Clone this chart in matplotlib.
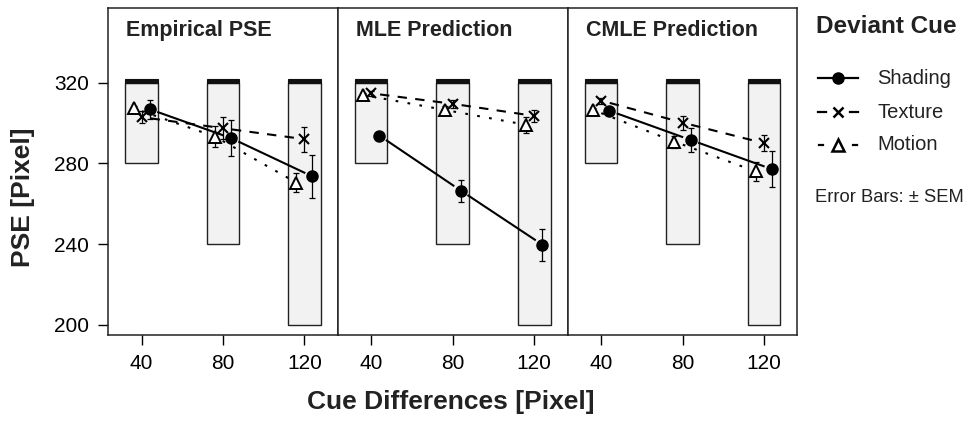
import numpy as np
import matplotlib
matplotlib.use("Agg")
from matplotlib import pyplot as plt
from matplotlib.lines import Line2D
from matplotlib.patches import Rectangle

plt.rcParams['font.family'] = ['Liberation Sans', 'DejaVu Sans']

# ---- data ----
cue_diffs = [40, 80, 120]
panels = ['Empirical PSE', 'MLE Prediction', 'CMLE Prediction']
standard = 320

shading = {'Empirical PSE': [306.8, 292.5, 273.5],
           'MLE Prediction': [293.8, 266.5, 239.7],
           'CMLE Prediction': [306.1, 291.6, 277.1]}
shading_sem = {'Empirical PSE': [4.6, 8.9, 10.5],
               'MLE Prediction': [1.5, 5.5, 8.0],
               'CMLE Prediction': [2.0, 6.0, 8.8]}
texture = {'Empirical PSE': [302.9, 297.4, 292.0],
           'MLE Prediction': [314.7, 309.5, 303.5],
           'CMLE Prediction': [311.1, 300.2, 290.0]}
texture_sem = {'Empirical PSE': [2.9, 5.5, 6.2],
               'MLE Prediction': [1.2, 2.0, 3.0],
               'CMLE Prediction': [1.5, 3.5, 4.1]}
motion = {'Empirical PSE': [307.3, 293.3, 270.5],
          'MLE Prediction': [313.9, 306.5, 299.1],
          'CMLE Prediction': [306.5, 290.8, 276.0]}
motion_sem = {'Empirical PSE': [1.0, 5.0, 4.5],
              'MLE Prediction': [1.0, 2.0, 4.0],
              'CMLE Prediction': [1.0, 3.0, 4.5]}

W, H = 973, 421
fig = plt.figure(figsize=(W / 100, H / 100), dpi=100)


def fx(px):
    return px / W


def fy(py):
    return 1 - py / H


def gapped_line(ax, xs, ys, gap, **kw):
    # draw segments between points, leaving a gap around each point (like R type="b")
    pts = ax.transData.transform(np.column_stack([xs, ys]))
    inv = ax.transData.inverted()
    for p0, p1 in zip(pts[:-1], pts[1:]):
        d = p1 - p0
        n = np.hypot(*d)
        if n <= 2 * gap:
            continue
        u = d / n
        a = inv.transform(p0 + u * gap)
        b = inv.transform(p1 - u * gap)
        ax.plot([a[0], b[0]], [a[1], b[1]], color='black', **kw)


series = [
    ('Shading', shading, shading_sem, 4, dict(marker='o', ms=8, mfc='black', mec='black'),
     dict(lw=1.5, ls='-')),
    ('Texture', texture, texture_sem, 0, dict(marker='x', ms=7.5, mec='black', mew=1.5),
     dict(lw=1.5, ls=(0, (4.5, 4)))),
    ('Motion', motion, motion_sem, -4, dict(marker='^', ms=8.5, mfc='white', mec='black', mew=1.4),
     dict(lw=1.5, ls=(0, (1.3, 4.5)))),
]

lefts = [108.3, 337.7, 567.7]
widths = [229.4, 230.0, 229.6]
top_px, bottom_px = 8.3, 335

for i, name in enumerate(panels):
    ax = fig.add_axes([fx(lefts[i]), fy(bottom_px), widths[i] / W, (bottom_px - top_px) / H])
    ax.set_xlim(23.6, 136.4)
    ax.set_ylim(195.0, 356.8)

    # bars: range from standard down by the cue difference
    for c in cue_diffs:
        ax.add_patch(Rectangle((c - 8, standard - c), 16, c, facecolor='#f2f2f2',
                               edgecolor='#222222', lw=1.0, zorder=1))
        ax.add_patch(Rectangle((c - 8, standard), 16, 2, facecolor='#111111',
                               edgecolor='#111111', lw=0.8, zorder=1))

    for label, vals, sems, off, mk, ln in series:
        xs = np.array(cue_diffs) + off
        ys = np.array(vals[name])
        gapped_line(ax, xs, ys, 9, zorder=2, **ln)
        ax.errorbar(xs, ys, yerr=sems[name], fmt='none', ecolor='black',
                    elinewidth=0.9, capsize=2, capthick=0.9, zorder=3)
        ax.plot(xs, ys, ls='none', zorder=4, **mk)

    ax.text(18 / widths[i], (bottom_px - 36) / (bottom_px - top_px), name,
            transform=ax.transAxes, fontsize=15.5, fontweight='bold', va='baseline',
            ha='left', color='#222222')

    ax.set_xticks(cue_diffs)
    ax.tick_params(axis='x', direction='out', length=7, width=1, labelsize=15, pad=6.5)
    if i == 0:
        ax.set_yticks([200, 240, 280, 320])
        ax.tick_params(axis='y', direction='out', length=7, width=1, labelsize=15, pad=7)
    else:
        ax.set_yticks([])
    for s in ax.spines.values():
        s.set_linewidth(1.1)
        s.set_color('#222222')

fig.text(fx(23), fy(197), 'PSE [Pixel]', rotation=90, fontsize=19, fontweight='bold',
         ha='center', va='center', color='#222222')
fig.text(fx(451), fy(402), 'Cue Differences [Pixel]', fontsize=19, fontweight='bold',
         ha='center', va='center', color='#222222')

# legend, drawn by hand to match the layout
fig.text(fx(816), fy(33), 'Deviant Cue', fontsize=17.5, fontweight='bold', ha='left',
         va='baseline', color='#222222')
legend_rows = [('Shading', 78, (818, 858), dict(marker='o', ms=8, mfc='black', mec='black'), (818, 858)),
               ('Texture', 112, (818, 858), dict(marker='x', ms=7, mec='black', mew=1.8), (826, 850)),
               ('Motion', 145, (819, 857), dict(marker='^', ms=8.5, mfc='white', mec='black', mew=1.8), (823, 853))]
for label, y, (x0, x1), mk, (g0, g1) in legend_rows:
    if label == 'Shading':
        fig.add_artist(Line2D([fx(x0), fx(x1)], [fy(y), fy(y)], color='black', lw=1.6))
    else:
        fig.add_artist(Line2D([fx(x0), fx(g0)], [fy(y), fy(y)], color='black', lw=1.6))
        fig.add_artist(Line2D([fx(g1), fx(x1)], [fy(y), fy(y)], color='black', lw=1.6))
    fig.add_artist(Line2D([fx((x0 + x1) / 2)], [fy(y)], ls='none', **mk))
    fig.text(fx(877), fy(y), label, fontsize=14.5, ha='left', va='center', color='#222222')

fig.text(fx(815), fy(198), 'Error Bars: \u00b1 SEM', fontsize=13.2, ha='left', va='center',
         color='#222222')

fig.savefig('out.png', dpi=100)
